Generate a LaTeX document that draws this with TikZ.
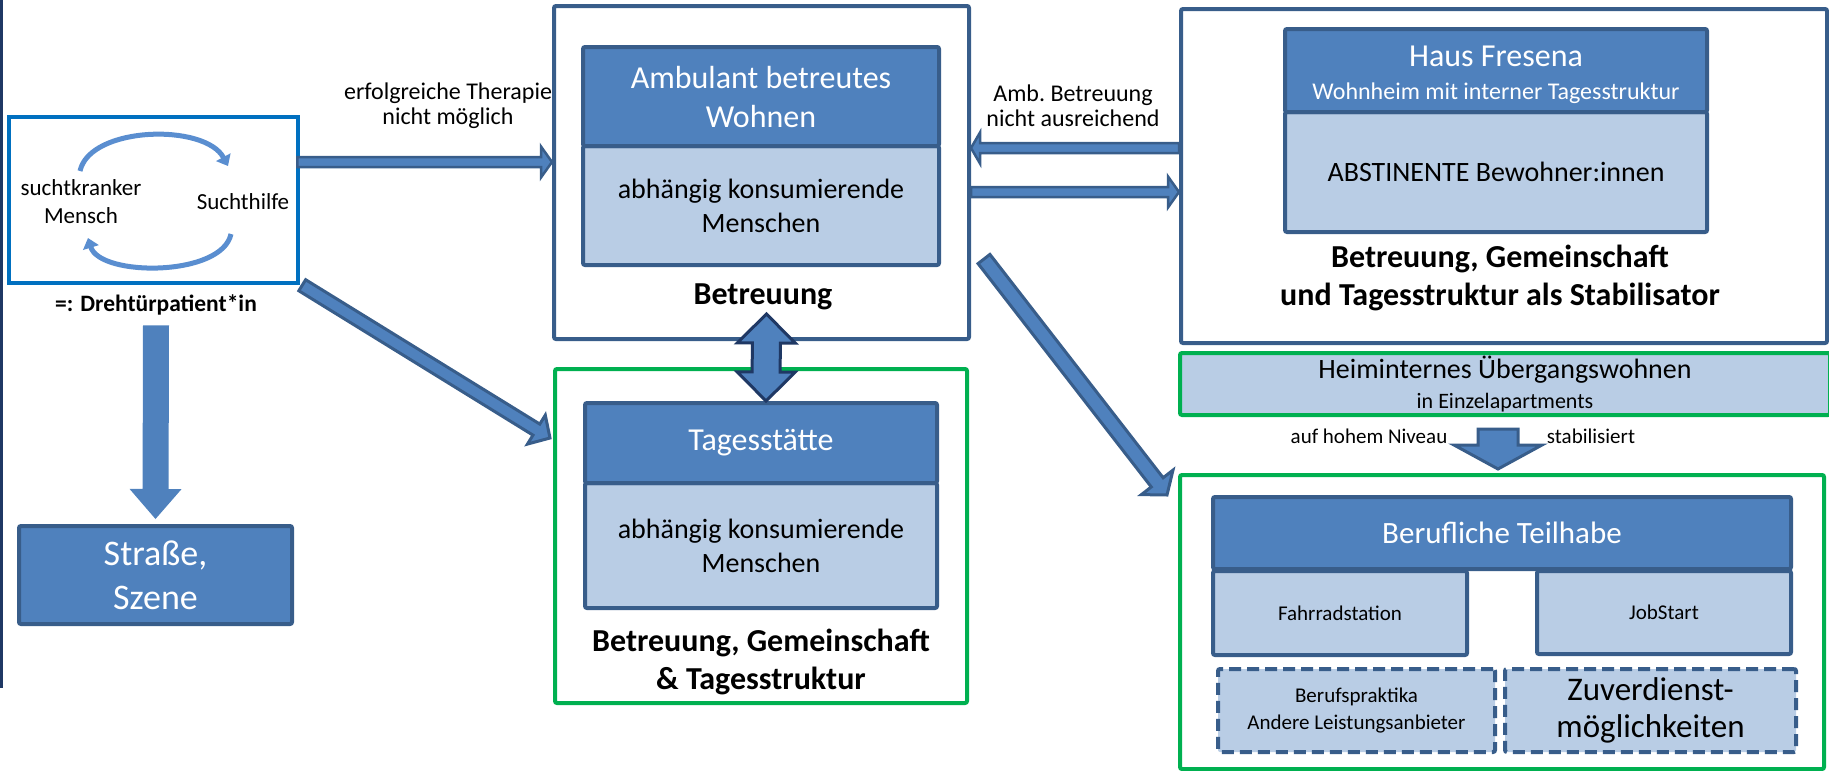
\documentclass[tikz,border=0pt]{standalone}
\usepackage{fontspec}
\setmainfont{Carlito}
\usepackage{tikz}
\usetikzlibrary{calc,arrows.meta}

\definecolor{kopfblau}{HTML}{4F81BD}
\definecolor{randblau}{HTML}{385D8A}
\definecolor{hellblau}{HTML}{B9CDE5}
\definecolor{gruen}{HTML}{00B050}
\definecolor{zyklusblau}{HTML}{0070C0}
\definecolor{zyklhell}{HTML}{5A8ED0}
\definecolor{dunkelblau}{HTML}{1F3864}

\newcommand{\schrift}[2]{\fontsize{#1}{#2}\selectfont}

\tikzstyle{rahmen}=[draw=randblau,fill=white,line width=4pt,rounded corners=2pt,inner sep=0pt]
\tikzstyle{gruenrahmen}=[draw=gruen,fill=white,line width=4pt,rounded corners=2pt,inner sep=0pt]
\tikzstyle{kopf}=[draw=randblau,fill=kopfblau,line width=4pt,rounded corners=2pt,text=white,align=center,inner sep=0pt]
\tikzstyle{rumpf}=[draw=randblau,fill=hellblau,line width=4pt,rounded corners=2pt,align=center,inner sep=0pt]
\tikzstyle{gestrichelt}=[draw=randblau,fill=hellblau,line width=4pt,dash pattern=on 12pt off 6pt,rounded corners=2pt,align=center,inner sep=0pt]
\tikzstyle{fett}=[font=\schrift{32}{38}\bfseries,align=center,inner sep=0pt]
\tikzstyle{notiz}=[font=\schrift{24}{25}\relax,align=center,inner sep=0pt]
\tikzstyle{zykl}=[draw=zyklhell,line width=5pt,-{Triangle[length=10pt,width=16pt]}]
\tikzstyle{duennpfeil}=[draw=randblau,fill=kopfblau,line width=2.5pt,line join=miter]
\tikzstyle{dickpfeil}=[draw=randblau,fill=kopfblau,line width=3pt,line join=miter]
\tikzstyle{dunkelpfeil}=[draw=dunkelblau,fill=kopfblau,line width=3pt,line join=miter]
\tikzstyle{flachpfeil}=[fill=kopfblau]

% block arrow: start, end, half shaft, half head, head length
\newcommand{\blockarrow}[6][]{%
  \coordinate (ba1) at (#2);
  \coordinate (ba2) at (#3);
  \coordinate (bah) at ($(ba2)!#6!(ba1)$);
  \path[#1] ($(ba1)!#4!90:(ba2)$) -- ($(bah)!#4!-90:(ba1)$) -- ($(bah)!#5!-90:(ba1)$) -- (ba2)
    -- ($(bah)!#5!90:(ba1)$) -- ($(bah)!#4!90:(ba1)$) -- ($(ba1)!#4!-90:(ba2)$) -- cycle;
}
\newcommand{\doppelpfeil}[6][]{%
  \coordinate (da1) at (#2);
  \coordinate (da2) at (#3);
  \coordinate (dha) at ($(da1)!#6!(da2)$);
  \coordinate (dhb) at ($(da2)!#6!(da1)$);
  \path[#1] (da1) -- ($(dha)!#5!90:(da2)$) -- ($(dha)!#4!90:(da2)$) -- ($(dhb)!#4!-90:(da1)$)
    -- ($(dhb)!#5!-90:(da1)$) -- (da2) -- ($(dhb)!#5!90:(da1)$) -- ($(dhb)!#4!90:(da1)$)
    -- ($(dha)!#4!-90:(da2)$) -- ($(dha)!#5!-90:(da2)$) -- cycle;
}

\begin{document}
\begin{tikzpicture}[x=1pt,y=-1pt]
\useasboundingbox (0,0) rectangle (1829,771);

\draw[dunkelblau,line width=3pt] (1.5,0) -- (1.5,688);

% Drehtuer
\node[draw=zyklusblau,line width=4.5pt,minimum width=289pt,minimum height=166pt,inner sep=0pt] (zyklus) at (153.5,200) {};
\node[notiz,font=\schrift{23}{28}] (mensch) at (81,202) {suchtkranker\\Mensch};
\node[notiz,font=\schrift{23}{28}] (hilfe) at (243,202) {Suchthilfe};
\coordinate (zA) at (80,171);
\coordinate (zB) at (228,166);
\coordinate (zC) at (231,234);
\coordinate (zD) at (88,238);
\draw[zykl] (zA) .. controls (90,126) and (205,123) .. (zB);
\draw[zykl] (zC) .. controls (222,277) and (100,277) .. (zD);
\node[fett,font=\schrift{23.5}{28}\bfseries] (drehtuer) at (156,305) {=: Drehtürpatient*in};

\node[kopf,minimum width=273pt,minimum height=98pt,font=\schrift{36}{44}] (strasse) at (155.5,575) {Straße,\\Szene};

% Ambulant
\node[rahmen,minimum width=415pt,minimum height=333pt] (amb) at (761.5,172.5) {};
\node[rumpf,minimum width=356pt,minimum height=119pt,font=\schrift{28}{34}] (ambrumpf) at (761,205.5) {abhängig konsumierende\\Menschen};
\node[kopf,minimum width=356pt,minimum height=99pt,font=\schrift{32}{39}] (ambkopf) at (761,96.5) {Ambulant betreutes\\Wohnen};
\node[fett] (ambtext) at (763,297) {Betreuung};

% Tagesstaette
\node[gruenrahmen,minimum width=412pt,minimum height=334pt] (tages) at (761,536) {};
\node[rumpf,minimum width=352pt,minimum height=125pt,font=\schrift{28}{34}] (tagesrumpf) at (761,545.5) {abhängig konsumierende\\Menschen};
\node[kopf,minimum width=352pt,minimum height=80pt,font=\schrift{32}{38}] (tageskopf) at (761,443) {Tagesstätte};
\node[fett] (tagestext) at (761,662) {Betreuung, Gemeinschaft\\\& Tagesstruktur};

% Haus Fresena
\node[rahmen,minimum width=646pt,minimum height=334pt] (haus) at (1504,176) {};
\node[rumpf,minimum width=422pt,minimum height=120pt,font=\schrift{28}{32}] (hausrumpf) at (1496,172) {ABSTINENTE Bewohner:innen};
\node[kopf,minimum width=422pt,minimum height=83pt,font=\schrift{24}{33}] (hauskopf) at (1496,70.5) {};
\node[font=\schrift{24}{33},text=white,align=center,inner sep=0pt] (hauskopftext) at (1496,75) {{\schrift{32}{33}Haus Fresena}\\Wohnheim mit interner Tagesstruktur};
\node[fett] (haustext) at (1500,278) {Betreuung, Gemeinschaft\\und Tagesstruktur als Stabilisator};

\node[draw=gruen,fill=hellblau,line width=4pt,rounded corners=2pt,minimum width=650pt,minimum height=62pt,align=center,inner sep=0pt,font=\schrift{22}{29.5}] (heim) at (1505,384) {{\schrift{28}{30}Heiminternes Übergangswohnen}\\in Einzelapartments};
\node[notiz,font=\schrift{21}{24}] (niveau) at (1369,436) {auf hohem Niveau};
\node[notiz,font=\schrift{21}{24}] (stabil) at (1591,436) {stabilisiert};

% Berufliche Teilhabe
\node[gruenrahmen,minimum width=644pt,minimum height=294pt] (beruf) at (1502,622) {};
\node[kopf,minimum width=578pt,minimum height=72pt,font=\schrift{31}{36}] (berufkopf) at (1502,533) {Berufliche Teilhabe};
\node[rumpf,minimum width=254pt,minimum height=84pt,font=\schrift{21}{26}] (fahrrad) at (1340,613) {\raisebox{-4pt}{Fahrradstation}};
\node[rumpf,minimum width=254pt,minimum height=83pt,font=\schrift{21}{26}] (jobstart) at (1664,612.5) {JobStart};
\node[gestrichelt,minimum width=277pt,minimum height=83pt,font=\schrift{21}{26.5}] (praktika) at (1356.5,710.5) {Berufspraktika\\Andere Leistungsanbieter};
\node[gestrichelt,minimum width=291pt,minimum height=83pt,font=\schrift{33}{37}] (zuverdienst) at (1650.5,710.5) {Zuverdienst-\\möglichkeiten};

% Pfeile
\node[notiz] (therapie) at (448,105.5) {erfolgreiche Therapie\\nicht möglich};
\node[notiz] (ausreichend) at (1073,105.5) {Amb.\ Betreuung\\nicht ausreichend};
\blockarrow[duennpfeil]{$(zyklus.east)+(-3,-38)$}{$(amb.west)+(0,-10.5)$}{5pt}{15.5pt}{11pt}
\blockarrow[duennpfeil]{$(haus.west)+(0,-28)$}{$(amb.east)+(0,-24.5)$}{5pt}{15.5pt}{9pt}
\blockarrow[duennpfeil]{$(amb.east)+(0,19.5)$}{$(haus.west)+(0,16)$}{5pt}{15.5pt}{11pt}
\blockarrow[dickpfeil]{$(zyklus.south east)+(2,0)$}{$(tages.north west)+(-3,71)$}{6.5pt}{17pt}{16pt}
\blockarrow[dickpfeil]{$(amb.south east)+(13,-82)$}{$(beruf.north west)+(-11,22)$}{7.5pt}{20pt}{16pt}
\blockarrow[flachpfeil]{$(drehtuer.south)+(0,10)$}{$(strasse.north)+(0,-5)$}{13pt}{26pt}{30pt}
\blockarrow[dickpfeil]{$(heim.south)+(-7,12)$}{$(beruf.north)+(-4,-4)$}{20pt}{44pt}{24pt}
\doppelpfeil[dunkelpfeil]{$(amb.south)+(5,-27)$}{$(tageskopf.north)+(5,0)$}{14pt}{29pt}{29pt}
\end{tikzpicture}
\end{document}
